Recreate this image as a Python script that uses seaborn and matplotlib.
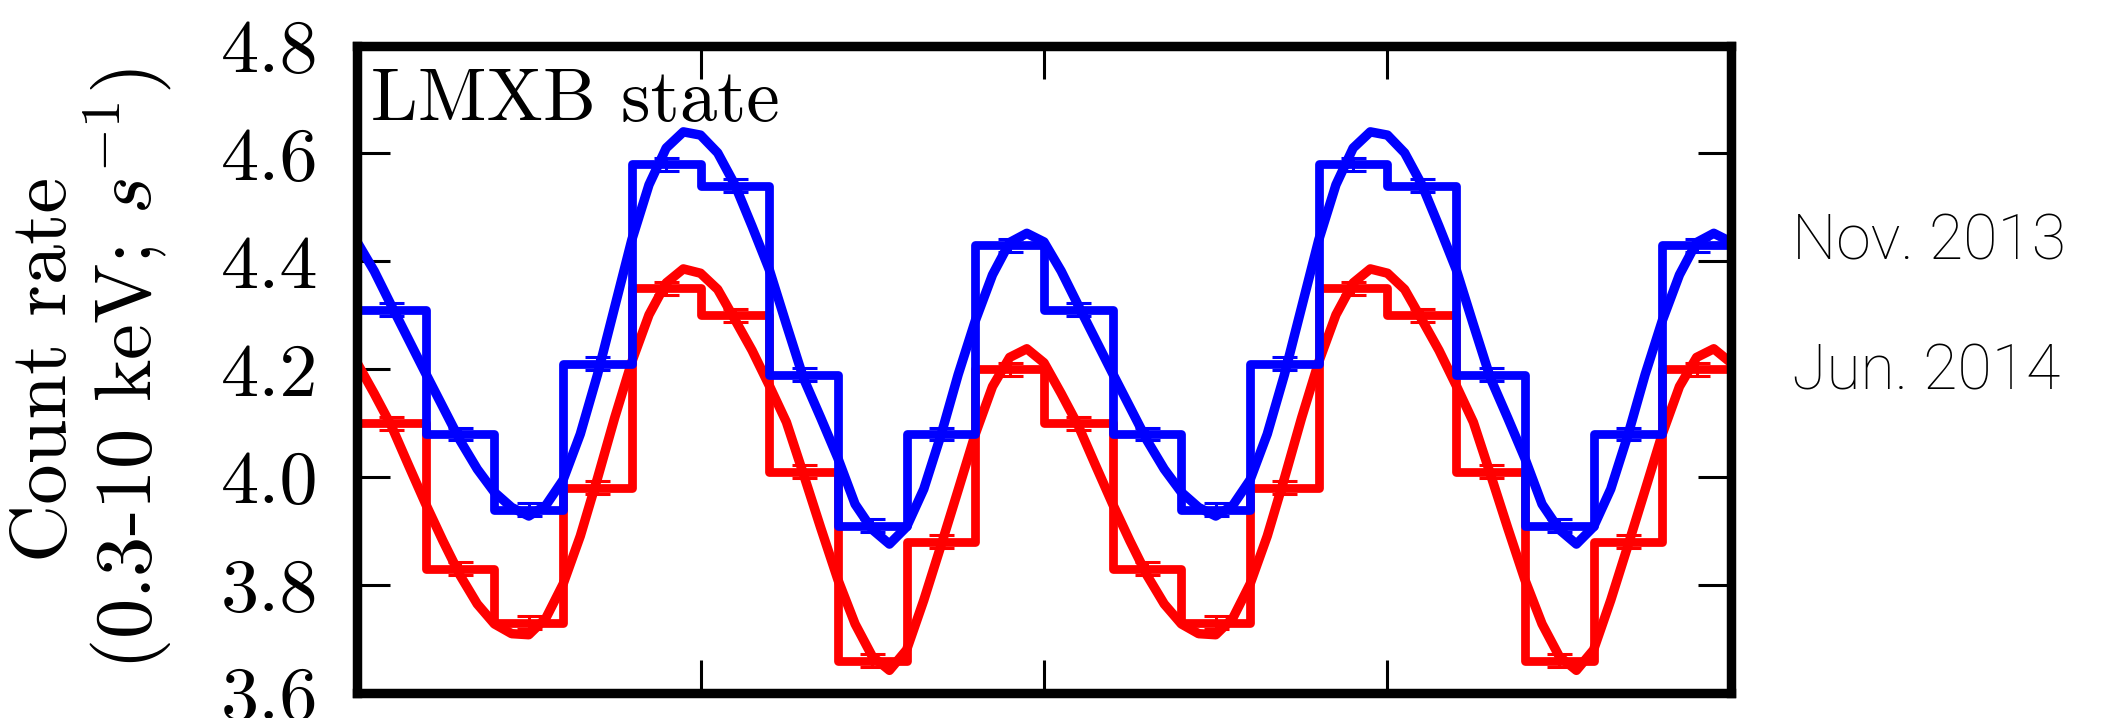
import numpy as np
import seaborn as sns
import matplotlib.pyplot as plt

# === Data (one pulse cycle, shown twice) ===
# binned count rates, 10 phase bins per cycle
nov2013_rate = [4.31, 4.08, 3.94, 4.21, 4.58, 4.54, 4.19, 3.91, 4.08, 4.43]
jun2014_rate = [4.10, 3.83, 3.73, 3.98, 4.35, 4.30, 4.01, 3.66, 3.88, 4.20]
rate_err = [0.012] * 10

# model curves, sampled every 0.025 in phase
nov2013_model = [4.436, 4.382, 4.318, 4.255, 4.192, 4.130, 4.068, 4.015, 3.972, 3.944,
                 3.928, 3.948, 3.995, 4.080, 4.190, 4.315, 4.440, 4.542, 4.610, 4.640,
                 4.634, 4.601, 4.542, 4.465, 4.385, 4.283, 4.183, 4.110, 4.035, 3.950,
                 3.903, 3.876, 3.908, 3.978, 4.078, 4.190, 4.290, 4.375, 4.435, 4.452]
jun2014_model = [4.212, 4.155, 4.095, 4.022, 3.950, 3.882, 3.818, 3.765, 3.728, 3.710,
                 3.708, 3.739, 3.802, 3.891, 3.998, 4.110, 4.214, 4.301, 4.360, 4.386,
                 4.378, 4.348, 4.292, 4.235, 4.170, 4.102, 4.005, 3.906, 3.810, 3.728,
                 3.668, 3.642, 3.680, 3.772, 3.873, 3.976, 4.080, 4.168, 4.222, 4.238]

y_ticks = [3.6, 3.8, 4.0, 4.2, 4.4, 4.6, 4.8]
x_ticks = [0.0, 0.5, 1.0, 1.5, 2.0]
n_cycles = 2

# === Style ===
sns.set_theme(style="ticks")
plt.rcParams['font.family'] = ['cmr10', 'DejaVu Serif']
plt.rcParams['mathtext.fontset'] = 'cm'
plt.rcParams['axes.formatter.use_mathtext'] = True
plt.rcParams['axes.unicode_minus'] = False
for key in ['text.color', 'axes.labelcolor', 'xtick.color', 'ytick.color', 'axes.edgecolor']:
    plt.rcParams[key] = 'black'

fig = plt.figure(figsize=(21.04, 7.18), dpi=100)
ax = fig.add_axes([0.1697, 0.0348, 0.6530, 0.9018])

n_bins = len(nov2013_rate)
edges = np.linspace(0, n_cycles, n_bins * n_cycles + 1)
centers = (edges[:-1] + edges[1:]) / 2
phase = np.linspace(0, n_cycles, len(nov2013_model) * n_cycles + 1)

for rate, model, color in [(jun2014_rate, jun2014_model, '#ff0000'),
                           (nov2013_rate, nov2013_model, '#0000ff')]:
    step_y = np.append(np.tile(rate, n_cycles), rate[-1])
    model_y = np.append(np.tile(model, n_cycles), model[0])
    sns.lineplot(x=edges, y=step_y, drawstyle='steps-post', color=color,
                 lw=6.3, estimator=None, sort=False, ax=ax)
    sns.lineplot(x=phase, y=model_y, color=color, lw=6.8,
                 estimator=None, sort=False, ax=ax)
    ax.errorbar(centers, np.tile(rate, n_cycles), yerr=np.tile(rate_err, n_cycles),
                fmt='none', ecolor=color, elinewidth=2.2, capsize=9, capthick=2.2)

ax.set_xlim(0, n_cycles)
ax.set_ylim(3.6, 4.8)
ax.set_xticks(x_ticks)
ax.set_yticks(y_ticks)
ax.set_yticklabels([f"{t:.1f}" for t in y_ticks])
ax.tick_params(direction='in', length=24, width=2.2, top=True, right=True,
               labelbottom=False, labelsize=55, pad=28, color='black')
for sp in ax.spines.values():
    sp.set_linewidth(6.8)
    sp.set_color('black')

ax.set_ylabel("Count rate\n(0.3-10 keV; $s^{-1}$)", fontsize=58, linespacing=1.0)
ax.yaxis.set_label_coords(-0.133, 0.5)

ax.text(0.010, 0.883, "LMXB state", transform=ax.transAxes, fontsize=54,
        va='baseline', ha='left')

fig.text(0.8517, 0.639, "Nov. 2013", fontsize=45, family=['Roboto', 'DejaVu Sans'],
         fontweight='light', va='baseline', ha='left', color='black')
fig.text(0.8517, 0.457, "Jun. 2014", fontsize=45, family=['Roboto', 'DejaVu Sans'],
         fontweight='light', va='baseline', ha='left', color='black')

fig.savefig("out.png", dpi=100)
